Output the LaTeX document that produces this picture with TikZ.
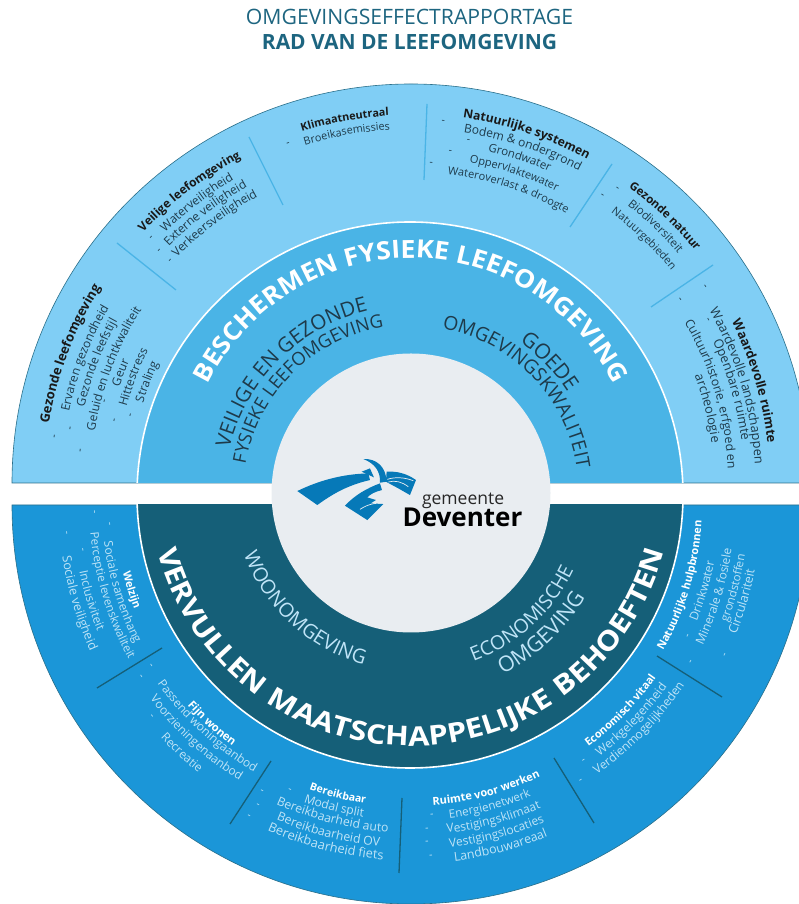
\documentclass[tikz,border=0pt]{standalone}
\usepackage{fontspec}
\setmainfont{Open Sans}
\newfontfamily\widebold[FakeStretch=1.07]{Open Sans}
\newfontfamily\widerbold[FakeStretch=1.15,LetterSpace=9]{Open Sans}
\usetikzlibrary{decorations.text}
\definecolor{uppouter}{HTML}{80CEF5}
\definecolor{uppmid}{HTML}{4AB4E6}
\definecolor{lowouter}{HTML}{1B96D8}
\definecolor{lowmid}{HTML}{155F78}
\definecolor{hub}{HTML}{E9EDF1}
\definecolor{headcol}{HTML}{1D6580}
\definecolor{darktxt}{HTML}{1E3A4A}
\definecolor{softtxt}{HTML}{BFE4F7}
\definecolor{logoblue}{HTML}{0679B8}
\definecolor{rimcol}{HTML}{2A6F8A}
\newcommand{\topcurve}[6]{%
 \pgfmathsetmacro\ca{atan2(#2-#4,#3-#1)}%
 \pgfmathsetmacro\cr{veclen(#3-#1,#2-#4)}%
 \path[decorate,decoration={text along path,text align=center,text={|#5|#6}}]
 ({#1+\cr*cos(\ca+85)},{904-#2+\cr*sin(\ca+85)}) arc[start angle=\ca+85,end angle=\ca-85,radius=\cr pt];}
\newcommand{\lowcurve}[6]{%
 \pgfmathsetmacro\ca{atan2(#2-#4,#3-#1)}%
 \pgfmathsetmacro\cr{veclen(#3-#1,#2-#4)}%
 \path[decorate,decoration={text along path,text align=center,text={|#5|#6}}]
 ({#1+\cr*cos(\ca-85)},{904-#2+\cr*sin(\ca-85)}) arc[start angle=\ca-85,end angle=\ca+85,radius=\cr pt];}
% size, x, y, text
\newcommand{\uh}[4]{\topcurve{411}{483}{#2}{#3}{\color{black!90}\fontsize{#1}{14}\selectfont\bfseries}{#4}}
\newcommand{\ui}[4]{\topcurve{411}{483}{#2}{#3}{\color{darktxt}\fontsize{#1}{14}\selectfont}{#4}}
\newcommand{\lh}[4]{\lowcurve{411}{505}{#2}{#3}{\color{white}\fontsize{#1}{14}\selectfont\bfseries}{#4}}
\newcommand{\li}[4]{\lowcurve{411}{505}{#2}{#3}{\color{softtxt}\fontsize{#1}{14}\selectfont}{#4}}
\newcommand{\ud}[2]{\ui{10.5}{#1}{#2}{-}}
\newcommand{\ld}[2]{\li{10.5}{#1}{#2}{-}}
\tikzset{sepup/.style={draw=uppmid,line width=1.3pt},seplow/.style={draw=lowmid,line width=1.3pt},
 rim/.style={draw=rimcol,line width=0.6pt}}
\begin{document}
\begin{tikzpicture}[x=1pt,y=1pt]
\useasboundingbox (0,0) rectangle (799,904);
\begin{scope}
\clip (0,0) rectangle (799,904);
\fill[uppouter,rim] (12,421) arc[start angle=180,end angle=0,radius=399pt] -- cycle;
\fill[lowouter,rim] (12,399) arc[start angle=180,end angle=360,radius=399pt] -- cycle;
\begin{scope}
\clip (0,421) rectangle (799,904);
\fill[uppmid,draw=white,line width=1.6pt] (410,409) circle[radius=273pt];
\end{scope}
\begin{scope}
\clip (0,0) rectangle (799,399);
\fill[lowmid,draw=white,line width=1.6pt] (410,409) circle[radius=273pt];
\end{scope}
\fill[hub] (411,411) circle[radius=139.5pt];
\end{scope}
% separators
\foreach \a/\b/\c/\d in {117/243/176/290,249/137/283/205,427/104/424/180,612/164/570/227,713/265/651/307}
 \draw[sepup] (\a,904-\b) -- (\c,904-\d);
\foreach \a/\b/\c/\d in {162/648/97/688,271/761/230/824,402/798/399/873,554/758/594/823,657/656/722/697}
 \draw[seplow] (\a,904-\b) -- (\c,904-\d);
% heading
\node[text=headcol,font=\fontsize{21.2}{24}\selectfont,anchor=base] (kop1) at (409.5,904-25) {OMGEVINGSEFFECTRAPPORTAGE};
\node[text=headcol,font=\fontsize{21}{24}\selectfont\bfseries,anchor=base] (kop2) at (409.5,904-50) {RAD VAN DE LEEFOMGEVING};
% main arc titles
\topcurve{411}{484}{411}{258}{\color{white}\fontsize{25}{28}\selectfont\widebold\bfseries}{BESCHERMEN FYSIEKE LEEFOMGEVING}
\lowcurve{411}{484}{411}{746}{\color{white}\fontsize{27}{28}\selectfont\widerbold\bfseries}{VERVULLEN MAATSCHAPPELIJKE BEHOEFTEN}
\topcurve{411}{493}{279.5}{360}{\color{darktxt}\fontsize{20.5}{22}\selectfont}{VEILIGE EN GEZONDE}
\topcurve{411}{493}{292.8}{373.6}{\color{darktxt}\fontsize{18.3}{22}\selectfont}{FYSIEKE LEEFOMGEVING}
\topcurve{411}{493}{546}{365}{\color{darktxt}\fontsize{21}{22}\selectfont}{GOEDE}
\topcurve{411}{493}{532}{377}{\color{darktxt}\fontsize{19.3}{22}\selectfont}{OMGEVINGSKWALITEIT}
\lowcurve{411}{493}{290.5}{624}{\color{softtxt}\fontsize{19.8}{22}\selectfont}{WOONOMGEVING}
\lowcurve{411}{493}{532.6}{625.7}{\color{softtxt}\fontsize{19.5}{22}\selectfont}{ECONOMISCHE}
\lowcurve{411}{493}{549.4}{641.5}{\color{softtxt}\fontsize{21.5}{22}\selectfont}{OMGEVING}
% upper items
\uh{10.8}{345}{121}{Klimaatneutraal}
\ui{10.8}{347}{135}{Broeikasemissies}
\ud{289}{146}
\uh{12}{189}{191}{Veilige leefomgeving}
\ui{12}{198}{204}{Waterveiligheid}
\ui{12}{206}{214}{Externe veiligheid}
\ui{12}{215}{224}{Verkeersveiligheid}
\ud{153}{239}\ud{161}{252}\ud{172}{262}
\uh{13}{68}{353}{Gezonde leefomgeving}
\ui{12}{85}{358}{Ervaren gezondheid}
\ui{12}{98}{363}{Gezonde leefstijl}
\ui{12}{112}{368}{Geluid en luchtkwaliteit}
\ui{12}{124}{374}{Geur}
\ui{12}{136}{378}{Hittestress}
\ui{12}{150}{383}{Straling}
\ud{57}{437}\ud{73}{429}\ud{83}{451}\ud{107}{402}\ud{117}{421}\ud{133}{416}
\uh{12.2}{527}{133}{Natuurlijke systemen}
\ui{12}{523}{147}{Bodem {\&} ondergrond}
\ui{11.5}{519}{160}{Grondwater}
\ui{11}{514}{174}{Oppervlaktewater}
\ui{11}{509}{188}{Wateroverlast {\&} droogte}
\ud{443}{124}\ud{468}{143}\ud{450}{154}\ud{431}{166}
\uh{11.5}{664}{217}{Gezonde natuur}
\ui{11.5}{654}{228}{Biodiversiteit}
\ui{11}{643}{240}{Natuurgebieden}
\ud{616}{191}\ud{601}{197}
\uh{12.8}{755}{381}{Waardevolle ruimte}
\ui{12.8}{741}{385}{Waardevolle landschappen}
\ui{12.8}{731}{390}{Openbare ruimte}
\ui{12.3}{715}{393}{Cultuurhistorie, erfgoed en}
\ui{12.8}{705}{409}{archeologie}
\ud{703}{288}\ud{678}{301}\ud{706}{321}
% lower items
\lh{10.8}{128}{591}{Welzijn}
\li{11.9}{115}{594}{Sociale samenhang}
\li{11.6}{103}{598}{Perceptie levenskwaliteit}
\li{12}{87}{602}{Inclusiviteit}
\li{12.5}{73}{605}{Sociale veiligheid}
\ld{107}{524}\ld{92}{512}\ld{80}{550}\ld{64}{533}
\lh{11.2}{209}{727}{Fijn wonen}
\li{11.9}{201}{733}{Passend woningaanbod}
\li{11.9}{191}{744}{Voorzieningenaanbod}
\li{11.9}{179}{756}{Recreatie}
\ld{149}{667}\ld{139}{678}\ld{150}{718}
\lh{10.5}{337}{798}{Bereikbaar}
\li{12}{333}{811}{Modal split}
\li{12.2}{331}{823}{Bereikbaarheid auto}
\li{12.2}{327}{837}{Bereikbaarheid OV}
\li{12.8}{324}{850}{Bereikbaarheid fiets}
\ld{289}{792}\ld{261}{793}\ld{257}{807}\ld{248}{818}
\lh{11}{488}{796}{Ruimte voor werken}
\li{11.6}{491}{810}{Energienetwerk}
\li{12}{495}{824}{Vestigingsklimaat}
\li{12}{498}{838}{Vestigingslocaties}
\li{12.4}{502}{852}{Landbouwareaal}
\ld{432}{817}\ld{427}{831}\ld{427}{844}\ld{431}{858}
\lh{10.8}{625}{715}{Economisch vitaal}
\li{12}{636}{724}{Werkgelegenheid}
\li{12}{645}{734}{Verdienmogelijkheden}
\ld{585}{763}\ld{582}{783}
\lh{10.9}{690}{588}{Natuurlijke hulpbronnen}
\li{12}{707}{592}{Drinkwater}
\li{12}{721}{598}{Minerale {\&} fosiele}
\li{11.5}{738}{589}{grondstoffen}
\li{12.5}{747}{603}{Circulariteit}
\ld{690}{637}\ld{693}{663}\ld{727}{656}
% logo
\begin{scope}[x=0.3333pt,y=-0.3333pt,shift={(840,-1392)}]
\fill[logoblue] (52,153) .. controls (120,120) and (190,102) .. (265,100) -- (270,120) .. controls (205,135) and (160,160) .. (112,195) -- cycle;
\fill[logoblue] (250,57) .. controls (290,55) and (318,80) .. (320,125) -- (300,128) .. controls (302,95) and (285,70) .. (250,57) -- cycle;
\fill[logoblue] (245,95) -- (270,85) -- (282,112) -- cycle;
\fill[logoblue] (320,95) .. controls (350,93) and (380,100) .. (408,120) -- (390,165) -- (355,145) -- (318,125) -- cycle;
\fill[logoblue] (195,197) .. controls (225,165) and (260,145) .. (300,130) -- (306,150) .. controls (285,155) and (272,162) .. (262,172) -- (288,180) -- (272,190) -- (310,192) -- (262,240) -- cycle;
\draw[hub,line width=0.7pt] (240,208) .. controls (255,198) and (270,192) .. (288,190);
\draw[hub,line width=0.7pt] (322,118) .. controls (345,110) and (375,112) .. (400,122);
\draw[hub,line width=0.7pt] (325,126) .. controls (345,120) and (365,125) .. (385,140);
\end{scope}
\node[text=black!85,font=\fontsize{17.5}{20}\selectfont,anchor=base west] (gem) at (418.5,904-505) {gemeente};
\node[text=black,font=\fontsize{26}{28}\selectfont\bfseries,anchor=base west] (dev) at (399,904-527) {Deventer};
\end{tikzpicture}
\end{document}
